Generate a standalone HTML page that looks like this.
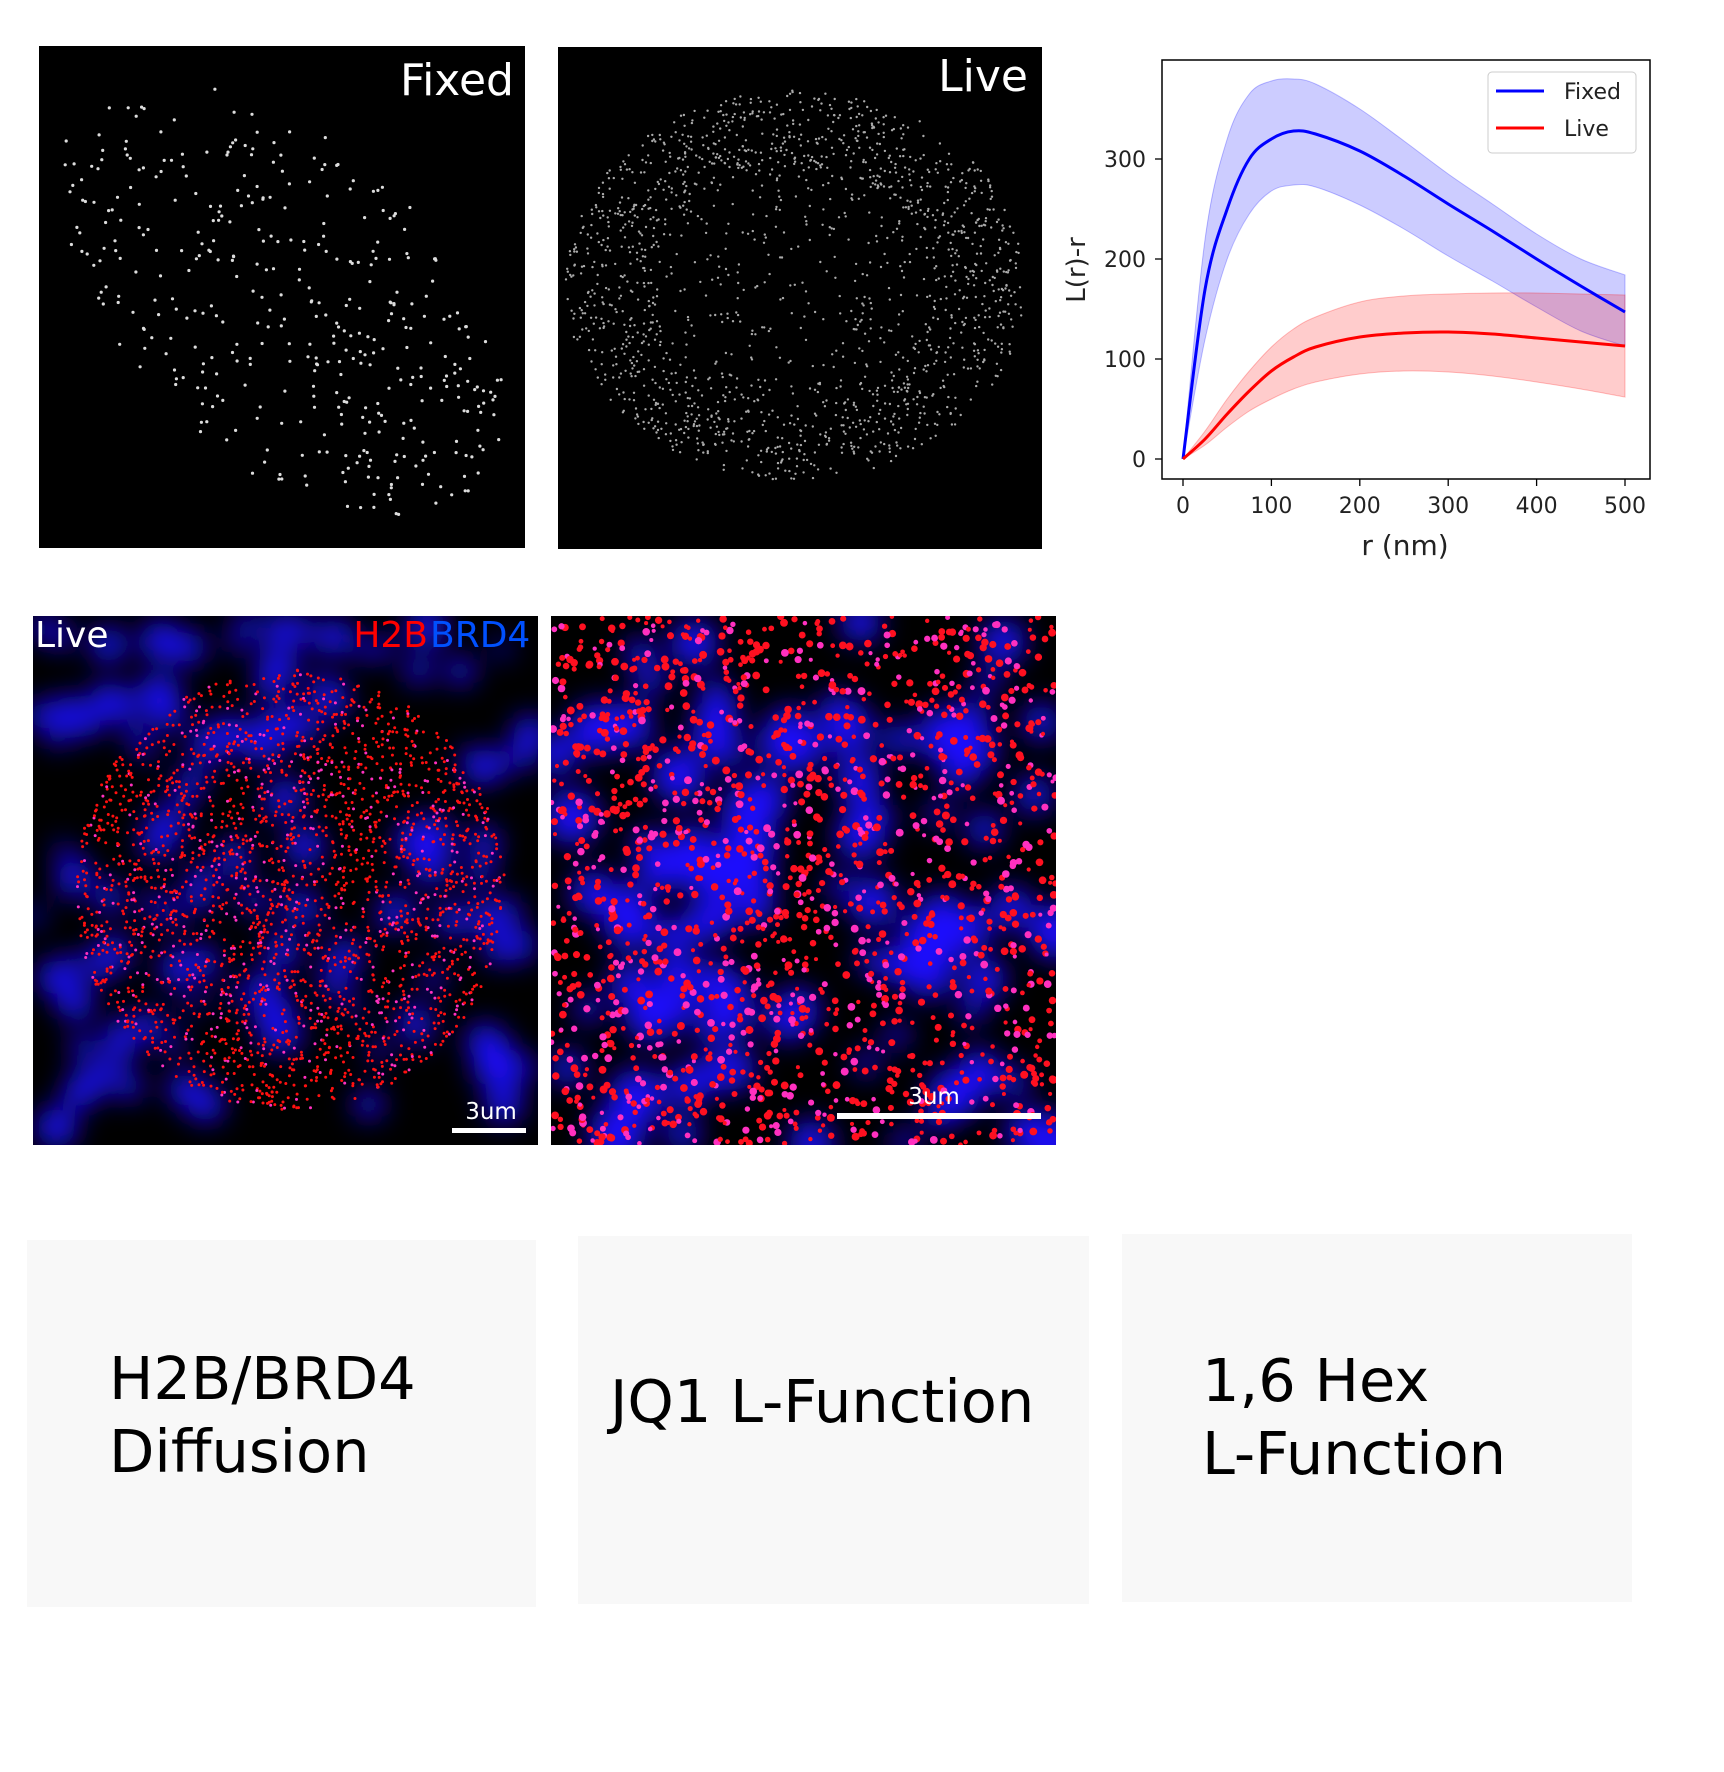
<!DOCTYPE html>
<html><head><meta charset="utf-8"><style>
body{margin:0;background:#fff;width:1724px;height:1772px;position:relative;overflow:hidden;font-family:"DejaVu Sans","Liberation Sans",sans-serif}
.box{position:absolute;background:#f8f8f8}
.box div{position:absolute;font-size:59px;line-height:73px;color:#000;white-space:nowrap}
svg{position:absolute}
</style></head><body>
<svg id="micro" width="1724" height="1200" style="left:0;top:0">
<defs>
<filter id="blur" x="-20%" y="-20%" width="140%" height="140%"><feGaussianBlur stdDeviation="14"/></filter>
<clipPath id="c3"><rect x="33" y="616" width="505" height="529"/></clipPath>
<clipPath id="c4"><rect x="551" y="616" width="505" height="529"/></clipPath>
</defs>
<rect x="39" y="46" width="486" height="502" fill="#000"/>
<rect x="558" y="47" width="484" height="502" fill="#000"/>
<rect x="33" y="616" width="505" height="529" fill="#000"/>
<rect x="551" y="616" width="505" height="529" fill="#000"/>
<g id="g1"></g><g id="g2"></g>
<g clip-path="url(#c3)"><g id="g3b" filter="url(#blur)"></g><g id="g3r"></g></g>
<g clip-path="url(#c4)"><g id="g4b" filter="url(#blur)"></g><g id="g4r"></g></g>
<text x="514" y="95" text-anchor="end" font-size="44" fill="#fff">Fixed</text>
<text x="1028" y="91" text-anchor="end" font-size="44" fill="#fff">Live</text>
<text x="35" y="647" font-size="36" fill="#fff">Live</text>
<text x="428" y="647" text-anchor="end" font-size="36" fill="#f00">H2B</text>
<text x="430" y="647" font-size="36" fill="#0050ff">BRD4</text>
<rect x="452" y="1128" width="74" height="5" fill="#fff"/>
<text x="491" y="1119" text-anchor="middle" font-size="23" fill="#fff">3um</text>
<rect x="837" y="1113" width="204" height="6" fill="#fff"/>
<text x="934" y="1104" text-anchor="middle" font-size="23" fill="#fff">3um</text>
</svg>

<svg id="chart" width="1724" height="700" style="left:0;top:0"></svg>

<div class="box" style="left:27px;top:1240px;width:509px;height:367px"><div style="left:82px;top:102px">H2B/BRD4<br>Diffusion</div></div>
<div class="box" style="left:578px;top:1236px;width:511px;height:368px"><div style="left:32px;top:129px">JQ1 L-Function</div></div>
<div class="box" style="left:1122px;top:1234px;width:510px;height:368px"><div style="left:80px;top:110px">1,6 Hex<br>L-Function</div></div>

<script>
// Chart data
const rVals=[0,25,50,75,100,125,150,200,250,300,350,400,450,500];
const fixedMean=[0,170,250,300,320,328,325,308,283,255,228,200,173,147];
const fixedUpper=[0,220,320,365,378,380,375,350,318,285,255,225,200,184];
const fixedLower=[0,120,200,245,268,274,272,254,230,203,178,152,128,113];
const liveMean=[0,20,45,68,88,102,112,122,126,127,125,121,117,113];
const liveUpper=[0,28,60,88,112,130,142,157,163,165,166,166,165,164];
const liveLower=[0,14,32,48,60,70,77,85,88,87,83,77,70,62];
const xTicks=[0,100,200,300,400,500];
const yTicks=[0,100,200,300];

const NS='http://www.w3.org/2000/svg';
const ch=document.getElementById('chart');
const X=v=>1183+v*(1625-1183)/500;
const Y=v=>459-v*(459-159)/300;
function mk(tag,attrs,parent){const e=document.createElementNS(NS,tag);for(const k in attrs)e.setAttribute(k,attrs[k]);(parent||ch).appendChild(e);return e;}
function smooth(xs,ys,move){
  const p=xs.map((x,i)=>[X(x),Y(ys[i])]);
  let d=(move?'M':'L')+p[0][0].toFixed(1)+' '+p[0][1].toFixed(1);
  for(let i=0;i<p.length-1;i++){
    const p0=p[Math.max(0,i-1)],p1=p[i],p2=p[i+1],p3=p[Math.min(p.length-1,i+2)];
    const c1=[p1[0]+(p2[0]-p0[0])/6,p1[1]+(p2[1]-p0[1])/6],c2=[p2[0]-(p3[0]-p1[0])/6,p2[1]-(p3[1]-p1[1])/6];
    d+=` C${c1[0].toFixed(1)} ${c1[1].toFixed(1)} ${c2[0].toFixed(1)} ${c2[1].toFixed(1)} ${p2[0].toFixed(1)} ${p2[1].toFixed(1)}`;
  }
  return d;
}
function bandPath(xs,up,lo){return smooth(xs,up,true)+' '+smooth(xs.slice().reverse(),lo.slice().reverse(),false)+' Z';}

let e=mk('path',{d:bandPath(rVals,fixedUpper,fixedLower),fill:'rgba(0,0,255,0.2)',stroke:'rgba(0,0,255,0.25)'});


e=mk('path',{d:bandPath(rVals,liveUpper,liveLower),fill:'rgba(255,0,0,0.2)',stroke:'rgba(255,0,0,0.25)'});


e=mk('path',{d:smooth(rVals,fixedMean,true),fill:'none',stroke:'#0000ff','stroke-width':3});


e=mk('path',{d:smooth(rVals,liveMean,true),fill:'none',stroke:'#ff0000','stroke-width':3});


e=mk('rect',{x:1162,y:60,width:488,height:419,fill:'none',stroke:'#000','stroke-width':1.5});


xTicks.forEach(t=>{
  const l=mk('line',{x1:X(t),x2:X(t),y1:479,y2:486,stroke:'#000','stroke-width':1.3});
  
  
  const tx=mk('text',{x:X(t),y:513,'text-anchor':'middle','font-size':22,fill:'#222'});
  tx.textContent=t;
  
  
});
yTicks.forEach(t=>{
  const l=mk('line',{x1:1155,x2:1162,y1:Y(t),y2:Y(t),stroke:'#000','stroke-width':1.3});
  
  
  const tx=mk('text',{x:1146,y:Y(t)+8,'text-anchor':'end','font-size':22,fill:'#222'});
  tx.textContent=t;
  
  
});
e=mk('text',{x:1405,y:555,'text-anchor':'middle','font-size':28,fill:'#222'});e.textContent='r (nm)';


e=mk('text',{x:0,y:0,'text-anchor':'middle','font-size':26,fill:'#222',transform:'translate(1085,270) rotate(-90)'});e.textContent='L(r)-r';


e=mk('rect',{x:1488,y:72,width:148,height:81,rx:4,fill:'#fff',stroke:'#ccc'});


[['Fixed','#0000ff',91],['Live','#ff0000',128]].forEach(([n,c,y])=>{
  const l=mk('line',{x1:1496,x2:1544,y1:y,y2:y,stroke:c,'stroke-width':3});
  
  
  const t=mk('text',{x:1564,y:y+8,'font-size':22,fill:'#222'});t.textContent=n;
  
  
});

// Microscopy texture (decorative)
let seed=7;const rnd=()=>{seed=(seed*16807)%2147483647;return seed/2147483647;};
function dots(g,n,fn){const gg=document.getElementById(g);let s='';for(let i=0;i<n;i++){const p=fn();if(p)s+=`<circle cx="${p[0].toFixed(1)}" cy="${p[1].toFixed(1)}" r="${p[2]}" fill="${p[3]}"/>`;}gg.innerHTML=s;}
dots('g1',700,()=>{const x=45+rnd()*475,y=50+rnd()*495;const u=(x-280)/260,v=(y-300)/250;const a=(u+v)*0.7,b=(u-v)*1.2;if(a*a+b*b>1.1)return null;return[x,y,1.6,'#ddd'];});
dots('g2',2200,()=>{const a=rnd()*6.283,rr=Math.sqrt(rnd())*1.0;const x=795+Math.cos(a)*rr*230,y=285+Math.sin(a)*rr*195;const w=rr<0.6?0.35:1;if(rnd()>w)return null;return[x,y,1.2,'#aaa'];});
dots('g3b',130,()=>{const x=33+rnd()*505,y=616+rnd()*529;return[x,y,8+rnd()*12,'#1a10ff'];});
dots('g3r',2600,()=>{const a=rnd()*6.283,rr=Math.sqrt(rnd());const x=290+Math.cos(a)*rr*215,y=890+Math.sin(a)*rr*220;return[x,y,1.5,rnd()<0.2?'#ff30c0':'#ff1010'];});
dots('g4b',100,()=>{const x=551+rnd()*505,y=616+rnd()*529;return[x,y,12+rnd()*16,'#1a10ff'];});
dots('g4r',1800,()=>{const cx=551+rnd()*505,cy=616+rnd()*529;return[cx,cy,2+rnd()*2,rnd()<0.3?'#ff30c0':'#ff1020'];});
</script>
</body></html>
